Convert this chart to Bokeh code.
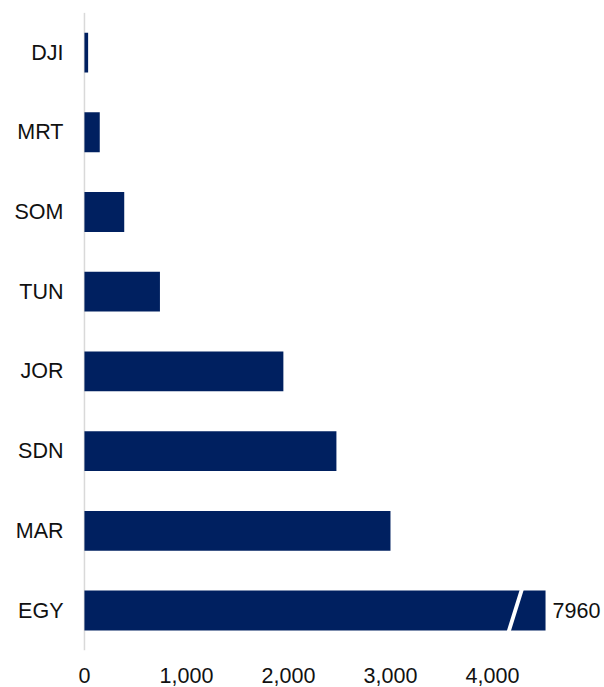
from bokeh.plotting import figure
from bokeh.models import Range1d, FixedTicker, ColumnDataSource
from bokeh.core.properties import value
from bokeh.embed import file_html
from bokeh.resources import INLINE

# ---- data ----
categories = ["DJI", "MRT", "SOM", "TUN", "JOR", "SDN", "MAR", "EGY"]
values = [36, 150, 390, 740, 1950, 2470, 3000, 7960]
x_ticks = [0, 1000, 2000, 3000, 4000]
x_tick_labels = ["0", "1,000", "2,000", "3,000", "4,000"]
axis_cap = 4520          # bars longer than this are drawn broken at the cap
break_at = 4223          # centre of the break mark

# ---- styles ----
BAR = "#002060"
FONT = "Liberation Sans"
FS = "21.5px"
TXT = "#111111"

n = len(categories)
ypos = [n - 1 - i for i in range(n)]
shown = [min(v, axis_cap) for v in values]

p = figure(width=604, height=687, output_backend="svg", toolbar_location=None,
           x_range=Range1d(-176, 5098), y_range=Range1d(-0.966, n - 0.497),
           x_axis_location=None, min_border_left=66, min_border_right=0,
           min_border_top=12, min_border_bottom=0)
p.outline_line_color = None
p.xgrid.visible = False
p.ygrid.visible = False
p.background_fill_color = "white"
p.border_fill_color = "white"

yax = p.yaxis[0]
yax.ticker = FixedTicker(ticks=ypos)
yax.major_label_overrides = {y: c for y, c in zip(ypos, categories)}
yax.major_tick_line_color = None
yax.minor_tick_line_color = None
yax.major_tick_out = 0
yax.major_tick_in = 0
yax.major_label_standoff = 3
yax.major_label_text_font = FONT
yax.major_label_text_font_size = FS
yax.major_label_text_color = TXT
yax.axis_line_color = None

# value-axis base line at x = 0, spanning the category bands
p.segment(x0=[0], y0=[-0.5], x1=[0], y1=[n - 0.5],
          line_color="#d9d9d9", line_width=1.5)

src = ColumnDataSource(dict(y=ypos, right=shown, cat=categories))
p.hbar(y="y", left=0, right="right", height=0.5, source=src,
       fill_color=BAR, line_color=None)

# break mark on bars exceeding the cap
half = 0.27
slant = 61 * half / 0.25
w = 20
for y, v in zip(ypos, values):
    if v > axis_cap:
        p.patch(x=[break_at + slant - w, break_at + slant + w,
                   break_at - slant + w, break_at - slant - w],
                y=[y + half, y + half, y - half, y - half],
                fill_color="white", line_color=None)
        p.text(x=[axis_cap], y=[y], text=[str(v)], x_offset=7,
               text_font=value(FONT), text_font_size=FS,
               text_baseline="middle", text_align="left", text_color=TXT)

# x tick labels (below the last category band)
p.text(x=x_ticks, y=[-0.81] * len(x_ticks), text=x_tick_labels,
       text_font=value(FONT), text_font_size=FS, text_align="center",
       text_baseline="middle", text_color=TXT)

open("out.html", "w").write(file_html(p, INLINE))
